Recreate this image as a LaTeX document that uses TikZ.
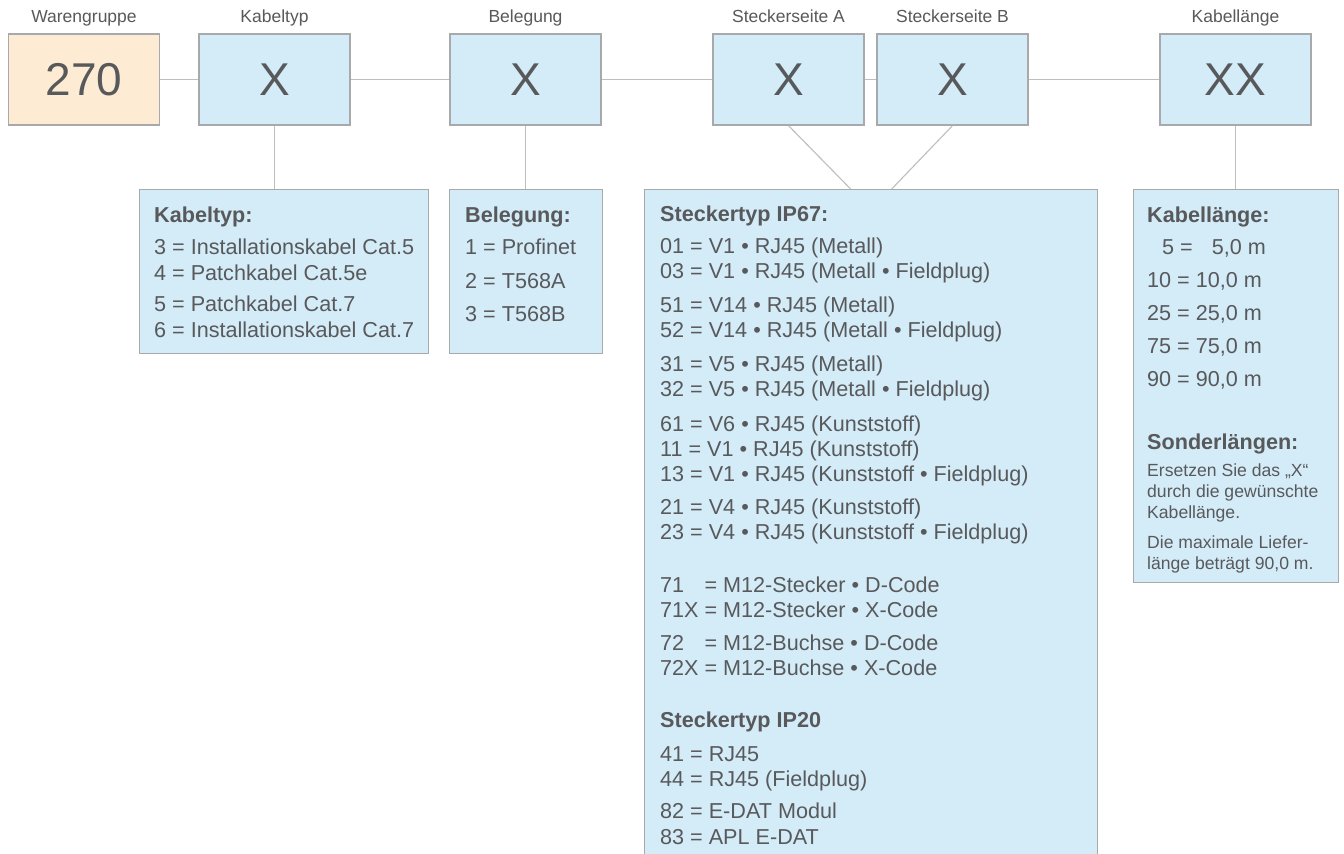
\documentclass[tikz,border=0pt]{standalone}
\usepackage{fontspec}
\setmainfont{Liberation Sans}
\usetikzlibrary{calc}
\definecolor{txt}{HTML}{58595B}
\definecolor{boxblue}{HTML}{D4EBF8}
\definecolor{boxorange}{HTML}{FDEBD4}
\definecolor{framegray}{HTML}{A7A9AC}
\definecolor{wire}{HTML}{BCBEC0}
\tikzset{
  bigbox/.style={draw=framegray, line width=1.3, fill=boxblue, minimum width=151, minimum height=91, inner sep=0, text=txt, font=\fontsize{46}{50}\selectfont},
  codebox/.style={bigbox, fill=boxorange},
  toplabel/.style={anchor=base, inner sep=0, text=txt, font=\fontsize{17.5}{21}\selectfont},
  listbox/.style={draw=framegray, line width=1.3, fill=boxblue, inner sep=0, anchor=north west},
  body/.style={anchor=base west, inner sep=0, text=txt, font=\fontsize{21.6}{25}\selectfont},
  head/.style={body, font=\fontsize{21.6}{25}\selectfont\bfseries},
  small/.style={anchor=base west, inner sep=0, text=txt, font=\fontsize{17.6}{21}\selectfont},
  wireline/.style={draw=wire, line width=1.1}
}
\begin{document}
\begin{tikzpicture}[x=1pt,y=-1pt]
\clip (0,0) rectangle (1344,854);
\fill[white] (0,0) rectangle (1344,854);

% top boxes
\node[codebox] (wg) at (84,79.5) {270};
\node[bigbox] (kt) at (274.5,79.5) {X};
\node[bigbox] (bg) at (525.5,79.5) {X};
\node[bigbox] (sa) at (788.5,79.5) {X};
\node[bigbox] (sb) at (952.5,79.5) {X};
\node[bigbox] (kl) at (1235.5,79.5) {XX};

% top labels
\node[toplabel] (lwg) at (84,22.5) {Warengruppe};
\node[toplabel] (lkt) at (274.5,22.5) {Kabeltyp};
\node[toplabel] (lbg) at (525.5,22.5) {Belegung};
\node[toplabel] (lsa) at (788.5,22.5) {Steckerseite A};
\node[toplabel] (lsb) at (952.5,22.5) {Steckerseite B};
\node[toplabel] (lkl) at (1235.5,22.5) {Kabellänge};

% lower boxes
\node[listbox, minimum width=289, minimum height=164] (ktl) at (139,189) {};
\node[listbox, minimum width=153, minimum height=164] (bgl) at (449,189) {};
\node[listbox, minimum width=453, minimum height=700] (stl) at (644,189) {};
\node[listbox, minimum width=205, minimum height=393] (kll) at (1133,189) {};

% connectors
\draw[wireline] (wg.east) -- (kt.west);
\draw[wireline] (kt.east) -- (bg.west);
\draw[wireline] (bg.east) -- (sa.west);
\draw[wireline] (sa.east) -- (sb.west);
\draw[wireline] (sb.east) -- (kl.west);
\draw[wireline] (kt.south) -- (kt.south |- ktl.north);
\draw[wireline] (bg.south) -- (bg.south |- bgl.north);
\draw[wireline] (kl.south) -- (kl.south |- kll.north);
\draw[wireline] (sa.south) -- ($(stl.north)+(-20.5,0)$);
\draw[wireline] (sb.south) -- ($(stl.north)+(20.5,0)$);

% Kabeltyp list
\node[head] (kth) at (154,222) {Kabeltyp:};
\node[body] (kt3) at (154,254) {3 = Installationskabel Cat.5};
\node[body] (kt4) at (154,280) {4 = Patchkabel Cat.5e};
\node[body] (kt5) at (154,311) {5 = Patchkabel Cat.7};
\node[body] (kt6) at (154,337) {6 = Installationskabel Cat.7};

% Belegung list
\node[head] (bgh) at (465,222) {Belegung:};
\node[body] (bg1) at (465,254) {1 = Profinet};
\node[body] (bg2) at (465,288) {2 = T568A};
\node[body] (bg3) at (465,321) {3 = T568B};

% Steckertyp list
\node[head] (sth) at (660,221) {Steckertyp IP67:};
\node[body] (s01) at (660,253) {01 = V1 • RJ45 (Metall)};
\node[body] (s03) at (660,278) {03 = V1 • RJ45 (Metall • Fieldplug)};
\node[body] (s51) at (660,312) {51 = V14 • RJ45 (Metall)};
\node[body] (s52) at (660,337) {52 = V14 • RJ45 (Metall • Fieldplug)};
\node[body] (s31) at (660,371) {31 = V5 • RJ45 (Metall)};
\node[body] (s32) at (660,396) {32 = V5 • RJ45 (Metall • Fieldplug)};
\node[body] (s61) at (660,431) {61 = V6 • RJ45 (Kunststoff)};
\node[body] (s11) at (660,456) {11 = V1 • RJ45 (Kunststoff)};
\node[body] (s13) at (660,481) {13 = V1 • RJ45 (Kunststoff • Fieldplug)};
\node[body] (s21) at (660,514) {21 = V4 • RJ45 (Kunststoff)};
\node[body] (s23) at (660,539) {23 = V4 • RJ45 (Kunststoff • Fieldplug)};
\node[body] (s71) at (660,592) {\rlap{71}\phantom{71X} = M12-Stecker • D-Code};
\node[body] (s71x) at (660,617) {71X = M12-Stecker • X-Code};
\node[body] (s72) at (660,650) {\rlap{72}\phantom{72X} = M12-Buchse • D-Code};
\node[body] (s72x) at (660,675) {72X = M12-Buchse • X-Code};
\node[head] (sth2) at (660,727) {Steckertyp IP20};
\node[body] (s41) at (660,761) {41 = RJ45};
\node[body] (s44) at (660,786) {44 = RJ45 (Fieldplug)};
\node[body] (s82) at (660,818) {82 = E-DAT Modul};
\node[body] (s83) at (660,844) {83 = APL E-DAT};

% Kabellaenge list
\node[head] (klh) at (1147,222) {Kabellänge:};
\node[body] (kl5) at (1147,254) {\hspace{15pt}5 = \hspace{13pt}5,0 m};
\node[body] (kl10) at (1147,287) {10 = 10,0 m};
\node[body] (kl25) at (1147,320) {25 = 25,0 m};
\node[body] (kl75) at (1147,353) {75 = 75,0 m};
\node[body] (kl90) at (1147,386) {90 = 90,0 m};
\node[head] (klsh) at (1147,449) {Sonderlängen:};
\node[small] (kla) at (1147,476) {Ersetzen Sie das „X“};
\node[small] (klb) at (1147,497) {durch die gewünschte};
\node[small] (klc) at (1147,518) {Kabellänge.};
\node[small] (kld) at (1147,548) {Die maximale Liefer-};
\node[small] (kle) at (1147,569) {länge beträgt 90,0 m.};
\end{tikzpicture}
\end{document}
